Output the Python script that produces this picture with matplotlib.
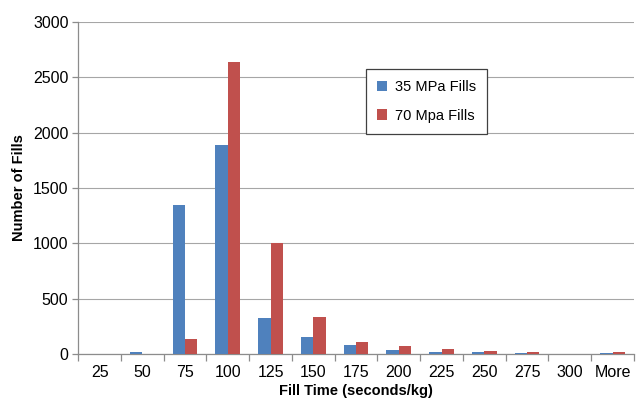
import matplotlib.pyplot as plt
import numpy as np

plt.rcParams['font.family'] = ['Liberation Sans', 'DejaVu Sans']

# Histogram bins and counts
bins = ['25', '50', '75', '100', '125', '150', '175', '200', '225', '250', '275', '300', 'More']
fills_35 = [0, 20, 1350, 1890, 325, 150, 80, 38, 22, 15, 8, 3, 5]
fills_70 = [0, 3, 133, 2640, 1000, 330, 108, 72, 42, 27, 20, 3, 20]

blue = '#4F81BD'
red = '#C0504D'

fig = plt.figure(figsize=(6.41, 4.0), dpi=100)
ax = fig.add_axes([0.122, 0.115, 0.867, 0.83])

index = np.arange(len(bins))
bar_width = 0.29

ax.bar(index - bar_width / 2, fills_35, bar_width, color=blue, label='35 MPa Fills', zorder=3)
ax.bar(index + bar_width / 2, fills_70, bar_width, color=red, label='70 Mpa Fills', zorder=3)

# Axes and grid
ax.set_xlim(-0.5, len(bins) - 0.5)
ax.set_ylim(0, 3000)
ax.set_yticks(np.arange(0, 3001, 500))
ax.yaxis.grid(True, color='#A6A6A6', linewidth=0.8, zorder=0)
ax.set_axisbelow(True)

for side in ['top', 'right']:
    ax.spines[side].set_visible(False)
for side in ['left', 'bottom']:
    ax.spines[side].set_color('#8C8C8C')
    ax.spines[side].set_linewidth(0.9)

ax.set_xticks(index)
ax.set_xticklabels(bins, fontsize=11.5)
ax.tick_params(axis='x', which='major', length=0, pad=8)
ax.set_xticks(np.arange(-0.5, len(bins), 1), minor=True)
ax.tick_params(axis='x', which='minor', length=5, color='#8C8C8C', width=0.9)
ax.tick_params(axis='y', length=4, color='#8C8C8C', width=0.9, labelsize=11.5, pad=3)

ax.set_xlabel('Fill Time (seconds/kg)', fontsize=10.5, fontweight='bold', labelpad=3)
ax.set_ylabel('Number of Fills', fontsize=10.5, fontweight='bold', labelpad=5)

leg = ax.legend(loc='upper left', bbox_to_anchor=(0.518, 0.858), fontsize=10.5,
                handlelength=0.7, handleheight=0.7, handletextpad=0.5,
                labelspacing=1.0, borderpad=0.75, fancybox=False, framealpha=1,
                borderaxespad=0)
leg.get_frame().set_edgecolor('#404040')
leg.get_frame().set_linewidth(0.9)

plt.savefig('out.png', dpi=100)
